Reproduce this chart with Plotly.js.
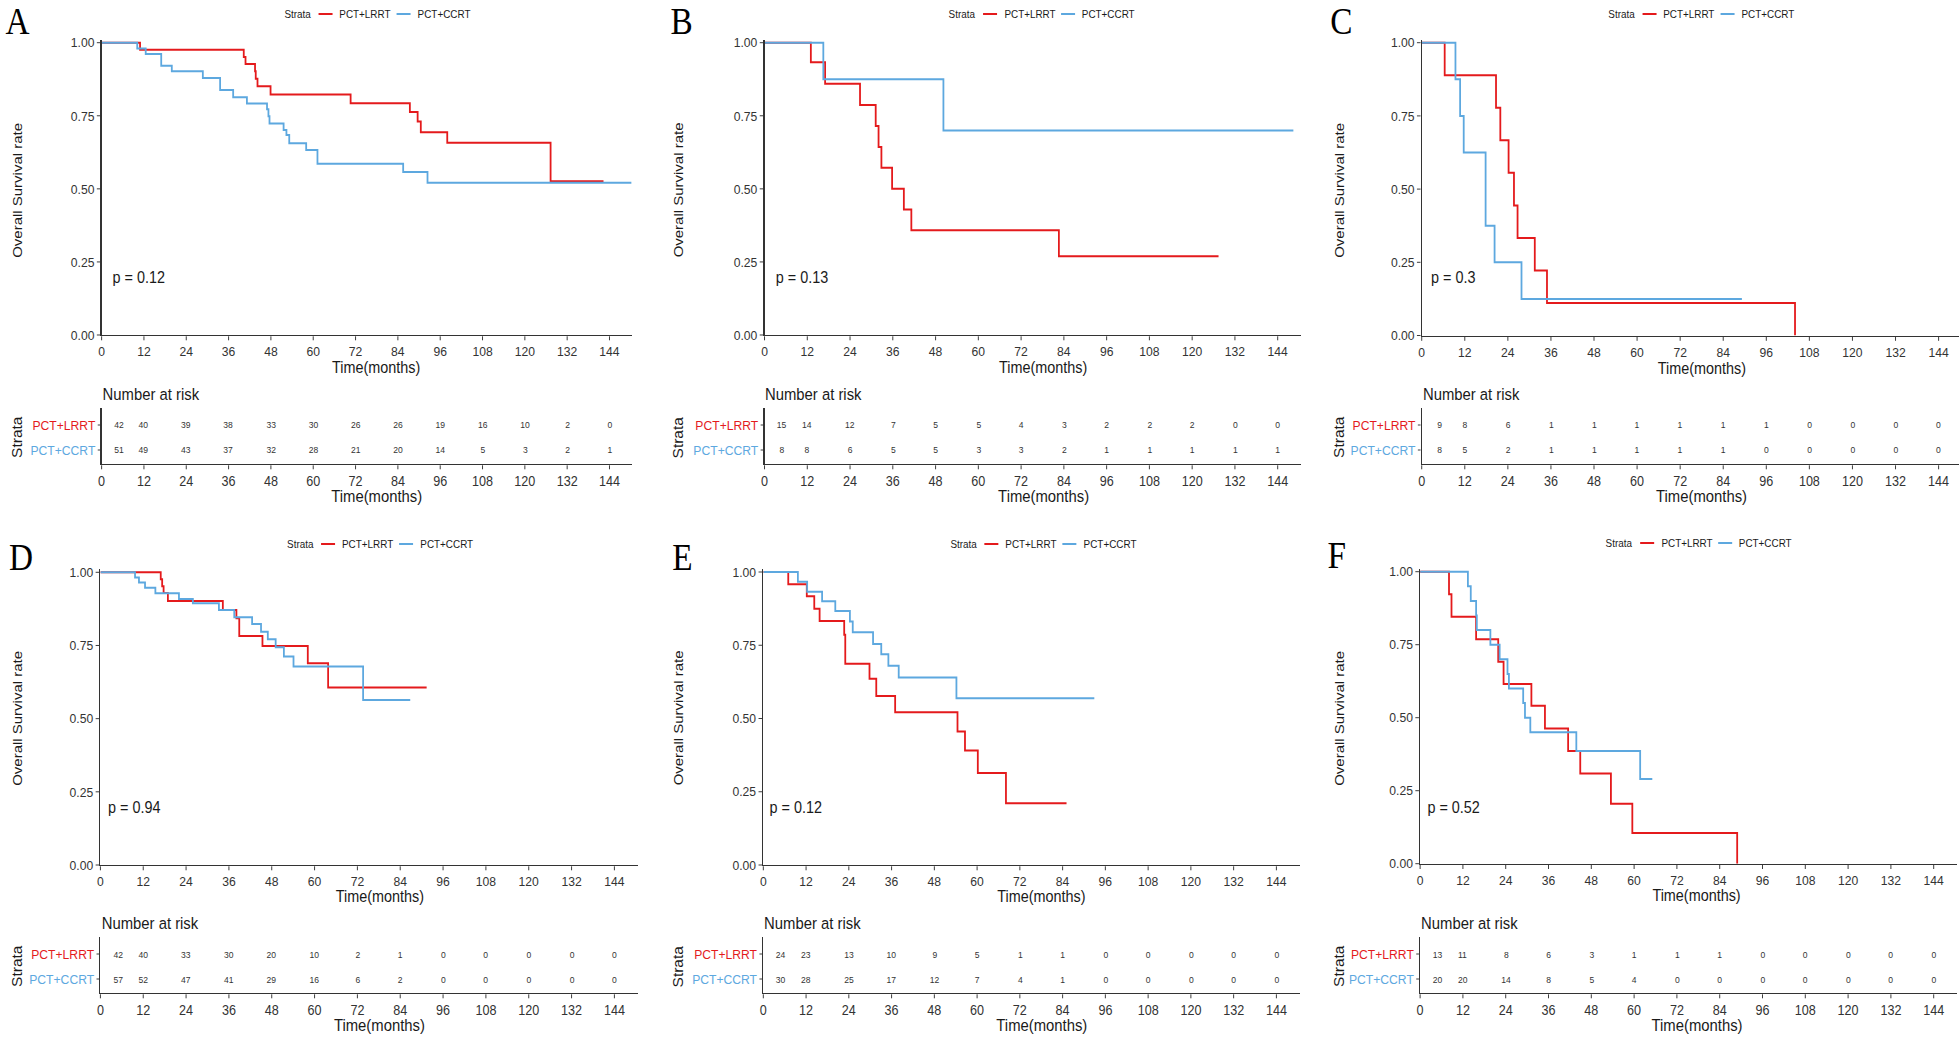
<!DOCTYPE html>
<html>
<head>
<meta charset="utf-8">
<script src="https://cdn.plot.ly/plotly-3.0.1.min.js"></script>
<style>
html,body{margin:0;padding:0;background:#fff;overflow:hidden;}
#wrap{width:1959px;height:1040px;overflow:hidden;position:relative;background:#fff;}
#gd{height:1040px;transform-origin:0 0;}
</style>
</head>
<body>
<div id="wrap"><div id="gd"></div></div>
<script>
// ---------------- DATA ----------------
const panelKeys = ['A','B','C','D','E','F'];
const seriesNames = ['PCT+LRRT','PCT+CCRT'];
const pValues = ['0.12','0.13','0.3','0.94','0.12','0.52'];
const xTicks = [0,12,24,36,48,60,72,84,96,108,120,132,144];
const yTicks = [0,0.25,0.5,0.75,1];
const riskTimes = [0,12,24,36,48,60,72,84,96,108,120,132,144];

// Kaplan-Meier step points (months, survival)
const A_LRRT_time = [0,10.9,40.3,40.8,43.5,43.7,44.2,47.9,70.6,87.4,89.6,90.5,98.0,127.3,142.3];
const A_LRRT_surv = [1,0.976,0.951,0.927,0.902,0.877,0.851,0.823,0.793,0.763,0.730,0.694,0.658,0.526,0.526];
const A_CCRT_time = [0,10.1,12.5,16.9,19.9,28.7,33.6,37.3,41.2,46.9,47.3,47.6,51.6,52.4,53.2,58.0,61.2,85.5,92.4,150.2];
const A_CCRT_surv = [1,0.980,0.961,0.921,0.902,0.879,0.838,0.813,0.792,0.772,0.748,0.724,0.701,0.684,0.656,0.633,0.586,0.558,0.521,0.521];

const B_LRRT_time = [0,13.0,17.0,26.8,31.2,32.0,32.8,35.8,39.1,41.2,82.6,127.4];
const B_LRRT_surv = [1,0.933,0.860,0.787,0.715,0.643,0.572,0.500,0.429,0.358,0.269,0.269];
const B_CCRT_time = [0,16.5,50.2,148.4];
const B_CCRT_surv = [1,0.875,0.700,0.700];

const C_LRRT_time = [0,6.4,20.7,21.9,24.2,25.7,26.7,31.5,34.9,104.0];
const C_LRRT_surv = [1,0.889,0.778,0.667,0.556,0.444,0.333,0.222,0.111,0];
const C_CCRT_time = [0,9.4,10.7,11.7,17.8,20.3,27.8,89.2];
const C_CCRT_surv = [1,0.875,0.750,0.625,0.375,0.250,0.125,0.125];

const D_LRRT_time = [0,16.9,17.3,17.7,18.9,34.3,38.1,38.9,45.4,58.1,63.8,91.4];
const D_LRRT_surv = [1,0.976,0.952,0.929,0.902,0.871,0.843,0.782,0.748,0.689,0.606,0.606];
const D_CCRT_time = [0,9.7,10.8,12.5,15.4,22.0,25.9,33.2,37.5,42.5,45.0,46.9,49.1,51.4,54.1,73.6,86.8];
const D_CCRT_surv = [1,0.982,0.965,0.947,0.928,0.909,0.894,0.871,0.846,0.823,0.797,0.771,0.744,0.712,0.678,0.564,0.564];

const E_LRRT_time = [0,7.0,12.2,14.3,15.8,22.7,23.0,29.8,31.7,37.0,54.5,56.6,60.2,68.1,85.1];
const E_LRRT_surv = [1,0.958,0.917,0.875,0.833,0.786,0.687,0.636,0.577,0.521,0.456,0.391,0.314,0.211,0.211];
const E_CCRT_time = [0,9.7,12.3,16.5,20.2,24.3,25.1,30.8,33.1,35.1,38.0,54.2,92.9];
const E_CCRT_surv = [1,0.967,0.933,0.900,0.867,0.831,0.794,0.754,0.719,0.680,0.640,0.569,0.569];

const F_LRRT_time = [0,8.1,8.8,15.7,21.9,23.4,31.2,35.0,41.5,44.9,53.5,59.5,88.9];
const F_LRRT_surv = [1,0.923,0.846,0.769,0.692,0.615,0.541,0.463,0.386,0.309,0.205,0.105,0];
const F_CCRT_time = [0,13.4,14.2,15.7,15.9,19.7,22.3,24.5,24.9,28.9,29.4,30.9,43.8,61.7,65.1];
const F_CCRT_surv = [1,0.950,0.900,0.850,0.800,0.750,0.700,0.650,0.600,0.550,0.500,0.450,0.386,0.290,0.290];

// Number at risk
const A_LRRT_risk = [42,40,39,38,33,30,26,26,19,16,10,2,0];
const A_CCRT_risk = [51,49,43,37,32,28,21,20,14,5,3,2,1];
const B_LRRT_risk = [15,14,12,7,5,5,4,3,2,2,2,0,0];
const B_CCRT_risk = [8,8,6,5,5,3,3,2,1,1,1,1,1];
const C_LRRT_risk = [9,8,6,1,1,1,1,1,1,0,0,0,0];
const C_CCRT_risk = [8,5,2,1,1,1,1,1,0,0,0,0,0];
const D_LRRT_risk = [42,40,33,30,20,10,2,1,0,0,0,0,0];
const D_CCRT_risk = [57,52,47,41,29,16,6,2,0,0,0,0,0];
const E_LRRT_risk = [24,23,13,10,9,5,1,1,0,0,0,0,0];
const E_CCRT_risk = [30,28,25,17,12,7,4,1,0,0,0,0,0];
const F_LRRT_risk = [13,11,8,6,3,1,1,1,0,0,0,0,0];
const F_CCRT_risk = [20,20,14,8,5,4,0,0,0,0,0,0,0];

// ---------------- LAYOUT GEOMETRY (target pixels) ----------------
const S = 0.9, FW = 1959, FH = 1040, XLIM = 150.5;
const fx = px => px / FW, fy = py => 1 - py / FH;
const RED = '#E41A1C', BLUE = '#5DA8DF';
const FONT = 'Liberation Sans, Arial, Helvetica, sans-serif';
const SERIF = 'Liberation Serif, Times New Roman, serif';

const geom = {
  A:{x0:101.6, x144:609.4, y1:42.7, y0:335,   tTop:408, tBot:464, lx:17.4,   ly:0,   legX:283.5,  legY:14,  pX:111.9, pY:278, ytX:17,   ytY:190, xtX:376.4, xtY:367, narY:394, strY:437, ttX:376.4,  ttY:495.5},
  B:{x0:764.4, x144:1277.5,y1:42.7, y0:335,   tTop:408, tBot:464, lx:681.5,  ly:0,   legX:947.9,  legY:14,  pX:774.5, pY:278, ytX:678,  ytY:190, xtX:1043,  xtY:367, narY:394, strY:437, ttX:1043,   ttY:495.5},
  C:{x0:1421.5,x144:1938.3,y1:42.7, y0:335.5, tTop:408, tBot:464, lx:1340.8, ly:0,   legX:1607.3, legY:14,  pX:1430,  pY:278, ytX:1338, ytY:190, xtX:1701.5,xtY:368, narY:394, strY:437, ttX:1701.5, ttY:495.5},
  D:{x0:100.4, x144:614.3, y1:572.3,y0:865,   tTop:937, tBot:993, lx:21.1,   ly:536, legX:286,    legY:544, pX:107,   pY:807, ytX:17,   ytY:718, xtX:379.3, xtY:896, narY:923, strY:966, ttX:379.3,  ttY:1024.5},
  E:{x0:763.2, x144:1276.2,y1:572,  y0:865,   tTop:937, tBot:993, lx:682.1,  ly:536, legX:949.2,  legY:544, pX:768.6, pY:807, ytX:678,  ytY:718, xtX:1041,  xtY:896, narY:923, strY:966, ttX:1041.4, ttY:1024.5},
  F:{x0:1419.9,x144:1933.4,y1:571.7,y0:863.7, tTop:937, tBot:993, lx:1337.1, ly:534, legX:1604.9, legY:543, pX:1426.4,pY:807, ytX:1338, ytY:718, xtX:1696.6,xtY:895, narY:923, strY:966, ttX:1696.6, ttY:1024.5}
};

const curves = {
  A:[[A_LRRT_time,A_LRRT_surv],[A_CCRT_time,A_CCRT_surv]],
  B:[[B_LRRT_time,B_LRRT_surv],[B_CCRT_time,B_CCRT_surv]],
  C:[[C_LRRT_time,C_LRRT_surv],[C_CCRT_time,C_CCRT_surv]],
  D:[[D_LRRT_time,D_LRRT_surv],[D_CCRT_time,D_CCRT_surv]],
  E:[[E_LRRT_time,E_LRRT_surv],[E_CCRT_time,E_CCRT_surv]],
  F:[[F_LRRT_time,F_LRRT_surv],[F_CCRT_time,F_CCRT_surv]]
};
const risks = {
  A:[A_LRRT_risk,A_CCRT_risk], B:[B_LRRT_risk,B_CCRT_risk], C:[C_LRRT_risk,C_CCRT_risk],
  D:[D_LRRT_risk,D_CCRT_risk], E:[E_LRRT_risk,E_CCRT_risk], F:[F_LRRT_risk,F_CCRT_risk]
};
const colors = [RED, BLUE];
const rowOf = [2, 1];

const axisBase = {
  showline:true, linecolor:'#333', linewidth:1.3, mirror:false,
  ticks:'outside', ticklen:4, tickwidth:1, tickcolor:'#333',
  showgrid:false, zeroline:false, fixedrange:true,
  tickfont:{family:FONT, size:13.5, color:'#333'}
};

const traces = [], annotations = [], shapes = [];
const layout = {
  width: FW / S, height: FH,
  margin:{l:0,r:0,t:0,b:0,pad:0},
  paper_bgcolor:'#fff', plot_bgcolor:'rgba(0,0,0,0)',
  showlegend:false
};

function txt(x, y, text, size, opts) {
  return Object.assign({xref:'paper', yref:'paper', x:fx(x), y:fy(y), text:text, showarrow:false,
    xanchor:'center', yanchor:'middle', borderpad:0, font:{family:FONT, size:size, color:'#1a1a1a'}}, opts || {});
}

panelKeys.forEach((key, i) => {
  const g = geom[key];
  const n = i + 1, m = i + 7;
  const xn = n === 1 ? 'x' : 'x' + n, yn = n === 1 ? 'y' : 'y' + n;
  const xm = 'x' + m, ym = 'y' + m;
  const ppm = (g.x144 - g.x0) / 144;
  const endPx = Math.min(g.x0 + XLIM * ppm, 1958.5);
  const xmax = (endPx - g.x0) / ppm;
  const yTopPx = g.y0 - 1.01 * (g.y0 - g.y1);

  // KM axes
  layout['xaxis' + (n === 1 ? '' : n)] = Object.assign({}, axisBase, {
    domain:[fx(g.x0), fx(endPx)], range:[0, xmax], anchor:yn,
    tickvals:xTicks, ticktext:xTicks.map(String)
  });
  layout['yaxis' + (n === 1 ? '' : n)] = Object.assign({}, axisBase, {
    domain:[fy(g.y0), fy(yTopPx)], range:[0, 1.01], anchor:xn,
    tickvals:yTicks, tickformat:'.2f'
  });
  // Risk-table axes
  layout['xaxis' + m] = Object.assign({}, axisBase, {
    domain:[fx(g.x0), fx(endPx)], range:[0, xmax], anchor:ym,
    tickvals:xTicks, ticktext:xTicks.map(String),
    tickfont:{family:FONT, size:14, color:'#333'}
  });
  layout['yaxis' + m] = Object.assign({}, axisBase, {
    domain:[fy(g.tBot), fy(g.tTop)], range:[0.44, 2.68], anchor:xm,
    tickvals:rowOf, ticklen:3,
    ticktext:seriesNames.map((s, k) => '<span style="color:' + colors[k] + '">' + s + '</span>'),
    tickfont:{family:FONT, size:13.5, color:'#333'}
  });

  // KM curves
  curves[key].forEach((c, k) => {
    traces.push({
      type:'scatter', mode:'lines', x:c[0], y:c[1], xaxis:xn, yaxis:yn,
      line:{shape:'hv', color:colors[k], width:2}, hoverinfo:'skip', cliponaxis:false
    });
  });

  // Risk table (invisible anchor trace + numbers as annotations)
  risks[key].forEach((r, k) => {
    traces.push({
      type:'scatter', mode:'markers', x:riskTimes, y:riskTimes.map(() => rowOf[k]),
      xaxis:xm, yaxis:ym, marker:{opacity:0, size:1}, hoverinfo:'skip'
    });
    r.forEach((v, j) => {
      annotations.push({
        xref:xm, yref:ym, x:riskTimes[j], y:rowOf[k], text:String(v), showarrow:false,
        xanchor:'center', yanchor:'middle', xshift: riskTimes[j] === 0 ? 17.5 / S : 0,
        font:{family:FONT, size:9.5, color:'#333'}
      });
    });
  });

  // Panel letter
  annotations.push(txt(g.lx, g.ly, key, 37, {yanchor:'top', font:{family:SERIF, size:37, color:'#000'}}));
  // Legend
  annotations.push(txt(g.legX, g.legY, 'Strata', 11, {xanchor:'left'}));
  annotations.push(txt(g.legX + 55, g.legY, seriesNames[0], 11, {xanchor:'left'}));
  annotations.push(txt(g.legX + 133, g.legY, seriesNames[1], 11, {xanchor:'left'}));
  shapes.push({type:'line', xref:'paper', yref:'paper', x0:fx(g.legX + 35), x1:fx(g.legX + 49), y0:fy(g.legY), y1:fy(g.legY), line:{color:RED, width:2}});
  shapes.push({type:'line', xref:'paper', yref:'paper', x0:fx(g.legX + 113), x1:fx(g.legX + 127), y0:fy(g.legY), y1:fy(g.legY), line:{color:BLUE, width:2}});
  // p-value
  annotations.push(txt(g.pX, g.pY, 'p = ' + pValues[i], 16, {xanchor:'left'}));
  // Axis titles
  annotations.push(txt(g.ytX, g.ytY, 'Overall Survival rate', 15, {textangle:-90}));
  annotations.push(txt(g.xtX, g.xtY, 'Time(months)', 16));
  // Risk table titles
  annotations.push(txt(g.x0, g.narY, 'Number at risk', 16.5, {xanchor:'left'}));
  annotations.push(txt(g.ytX, g.strY, 'Strata', 15.5, {textangle:-90}));
  annotations.push(txt(g.ttX, g.ttY, 'Time(months)', 16.5));
});

layout.annotations = annotations;
layout.shapes = shapes;

const gd = document.getElementById('gd');
gd.style.width = (FW / S) + 'px';
gd.style.transform = 'scaleX(' + S + ')';
Plotly.newPlot(gd, traces, layout, {staticPlot:true, displayModeBar:false});
</script>
</body>
</html>
